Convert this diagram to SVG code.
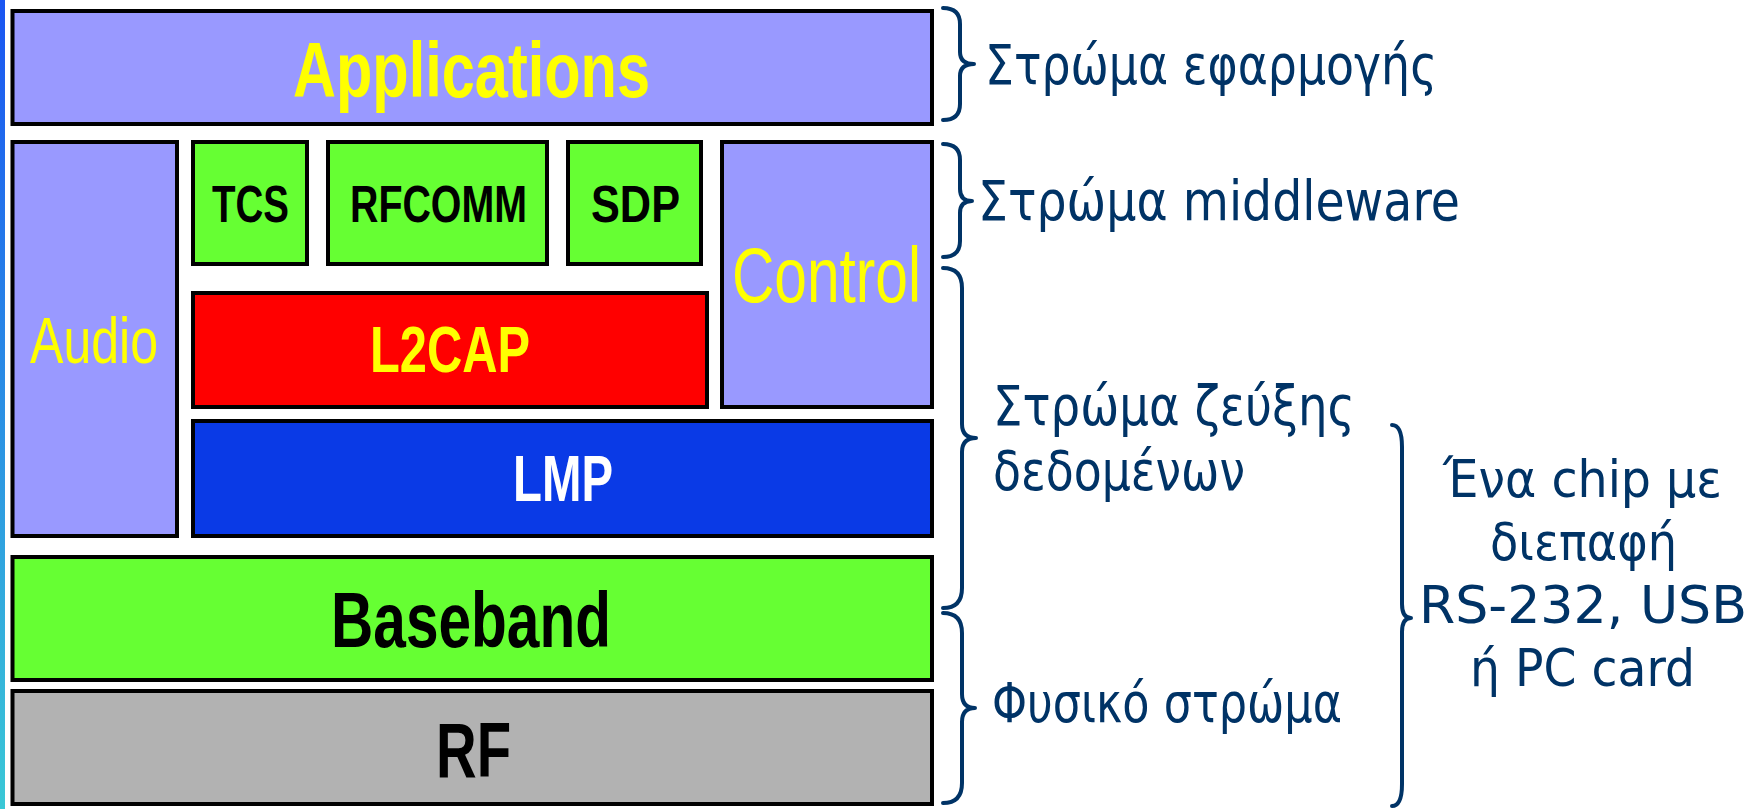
<svg xmlns="http://www.w3.org/2000/svg" width="1757" height="809" viewBox="0 0 1757 809">
<style>
.box{stroke:#000;stroke-width:4}
.lav{fill:#9999FF}
.grn{fill:#66FF33}
.b{font-family:"Liberation Sans",Arial,sans-serif;font-weight:bold;text-anchor:middle}
.r{font-family:"Liberation Sans",Arial,sans-serif;text-anchor:middle}
.lbl{font-family:"DejaVu Sans","Noto Sans",sans-serif;font-size:55px;fill:#003366}
.rl{font-family:"DejaVu Sans","Noto Sans",sans-serif;font-size:52px;fill:#003366;text-anchor:middle}
.brace{fill:none;stroke:#003366;stroke-width:4;stroke-linecap:round;stroke-linejoin:round}
</style>
<defs>
<linearGradient id="edge" x1="0" y1="0" x2="0" y2="1">
<stop offset="0" stop-color="#1A55F2"/>
<stop offset="1" stop-color="#3AC8D6"/>
</linearGradient>
</defs>
<rect width="1757" height="809" fill="#FFFFFF"/>
<rect x="0" y="0" width="5" height="809" fill="url(#edge)"/>

<g id="applications">
<rect class="box lav" x="12.5" y="11" width="919.5" height="113"/>
<text class="b" x="471.5" y="97" font-size="78" fill="#FFFF00" textLength="357" lengthAdjust="spacingAndGlyphs">Applications</text>
</g>
<g id="audio">
<rect class="box lav" x="12.5" y="142" width="164.5" height="394"/>
<text class="r" x="94" y="363" font-size="64" fill="#FFFF00" textLength="128" lengthAdjust="spacingAndGlyphs">Audio</text>
</g>
<g id="tcs">
<rect class="box grn" x="193" y="142" width="114" height="122"/>
<text class="b" x="250.5" y="222" font-size="52" fill="#000" textLength="77" lengthAdjust="spacingAndGlyphs">TCS</text>
</g>
<g id="rfcomm">
<rect class="box grn" x="328" y="142" width="219" height="122"/>
<text class="b" x="438.5" y="222" font-size="52" fill="#000" textLength="177" lengthAdjust="spacingAndGlyphs">RFCOMM</text>
</g>
<g id="sdp">
<rect class="box grn" x="568" y="142" width="133" height="122"/>
<text class="b" x="635.5" y="222" font-size="52" fill="#000" textLength="89" lengthAdjust="spacingAndGlyphs">SDP</text>
</g>
<g id="control">
<rect class="box lav" x="722" y="142" width="210" height="265"/>
<text class="r" x="826.5" y="302" font-size="77" fill="#FFFF00" textLength="189" lengthAdjust="spacingAndGlyphs">Control</text>
</g>
<g id="l2cap">
<rect class="box" x="193" y="293" width="514" height="114" fill="#FF0000"/>
<text class="b" x="450" y="372" font-size="64" fill="#FFFF00" textLength="160" lengthAdjust="spacingAndGlyphs">L2CAP</text>
</g>
<g id="lmp">
<rect class="box" x="193" y="421" width="739" height="115" fill="#0A3AE6"/>
<text class="b" x="563" y="501" font-size="64" fill="#FFFFFF" textLength="100" lengthAdjust="spacingAndGlyphs">LMP</text>
</g>
<g id="baseband">
<rect class="box grn" x="12.5" y="557" width="919.5" height="123"/>
<text class="b" x="471" y="647" font-size="77" fill="#000" textLength="280" lengthAdjust="spacingAndGlyphs">Baseband</text>
</g>
<g id="rf">
<rect class="box" x="12.5" y="691" width="919.5" height="113" fill="#B2B2B2"/>
<text class="b" x="473.5" y="777" font-size="78" fill="#000" textLength="75" lengthAdjust="spacingAndGlyphs">RF</text>
</g>

<g id="connectors">
<path class="brace" d="M943,8 Q960,8 960,24 L960,52 Q960,64 974,64 Q960,64 960,76 L960,104 Q960,120 943,120"/>
<path class="brace" d="M943,144 Q960,144 960,160 L960,189 Q960,201 972,201 Q960,201 960,213 L960,241 Q960,257 943,257"/>
<path class="brace" d="M943,268 Q962,268 962,288 L962,424 Q962,438 976,438 Q962,438 962,452 L962,588 Q962,608 943,608"/>
<path class="brace" d="M943,613 Q962,613 962,633 L962,694 Q962,708 975,708 Q962,708 962,722 L962,783 Q962,803 943,803"/>
<path class="brace" d="M1392,425 Q1402,425 1402,447 L1402,604 Q1402,618 1411,618 Q1402,618 1402,632 L1402,784 Q1402,806 1392,806"/>
</g>

<g id="labels">
<text class="lbl" x="985" y="84" textLength="452" lengthAdjust="spacingAndGlyphs">Στρώμα εφαρμογής</text>
<text class="lbl" x="978" y="220" textLength="482" lengthAdjust="spacingAndGlyphs">Στρώμα middleware</text>
<text class="lbl" x="993" y="425" textLength="362" lengthAdjust="spacingAndGlyphs">Στρώμα ζεύξης</text>
<text class="lbl" x="993" y="490" textLength="252" lengthAdjust="spacingAndGlyphs">δεδομένων</text>
<text class="lbl" x="992" y="722" textLength="350" lengthAdjust="spacingAndGlyphs">Φυσικό στρώμα</text>
<text class="rl" x="1582.5" y="497" textLength="279" lengthAdjust="spacingAndGlyphs">Ένα chip με</text>
<text class="rl" x="1583.5" y="560" textLength="187" lengthAdjust="spacingAndGlyphs">διεπαφή</text>
<text class="rl" x="1583" y="623" textLength="328" lengthAdjust="spacingAndGlyphs">RS-232, USB</text>
<text class="rl" x="1582.5" y="686" textLength="225" lengthAdjust="spacingAndGlyphs">ή PC card</text>
</g>
</svg>
